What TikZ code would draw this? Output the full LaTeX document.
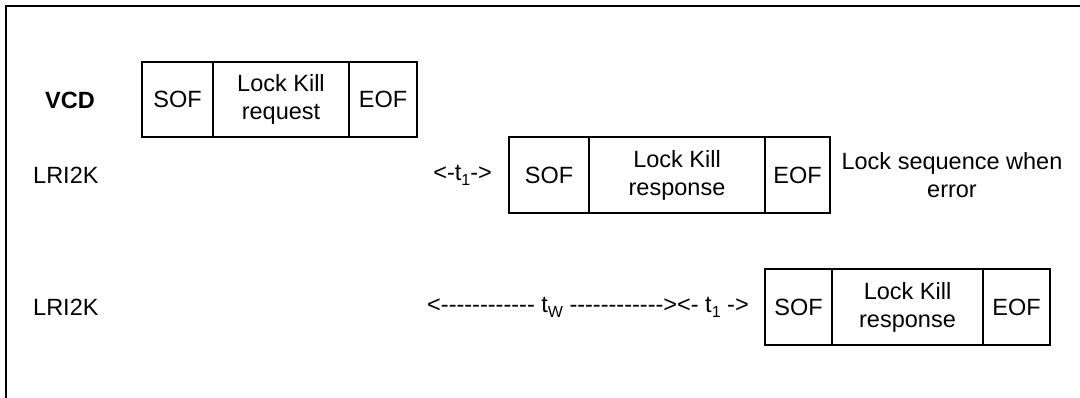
\documentclass[tikz,border=0pt]{standalone}
\usepackage{fontspec}
\setmainfont{Liberation Sans}[Ligatures=TeXOff]
\newcommand\mysub[1]{\raisebox{-0.22em}{\fontsize{16}{16}\selectfont #1}}
\newcommand\dashrun[1]{\foreach \i in {1,...,#1}{-}}
\begin{document}
\begin{tikzpicture}[x=1pt,y=-1pt,
  seg/.style={draw,line width=2.1pt,inner sep=0pt,align=center,
    font=\fontsize{23.5}{28}\selectfont},
  lbl/.style={inner sep=0pt,align=center,font=\fontsize{23.5}{28}\selectfont}]
\useasboundingbox (0,0) rectangle (1080,398);
% frame
\coordinate (ftr) at (1080,6);
\coordinate (ftl) at (6,6);
\coordinate (fbl) at (6,398);
\draw[line width=2.1pt] (ftr) -- (ftl) -- (fbl);
% row 1 : VCD
\node[lbl,font=\fontsize{23.5}{28}\selectfont\bfseries,anchor=west] (vcd) at (45,100) {VCD};
\node[seg,minimum width=71pt,minimum height=75pt] (a1) at (177.5,99.5) {SOF};
\node[seg,minimum width=136pt,minimum height=75pt] (a2) at (281,99.5) {Lock Kill\\request};
\node[seg,minimum width=68pt,minimum height=75pt] (a3) at (383,99.5) {EOF};
% row 2
\node[lbl,anchor=west] (l2) at (33,175) {LRI2K};
\node[lbl,anchor=east] (t1a) at (492,175) {<-t\mysub{1}->};
\node[seg,minimum width=80pt,minimum height=76pt] (b1) at (549,175) {SOF};
\node[seg,minimum width=176pt,minimum height=76pt] (b2) at (677,175) {Lock Kill\\response};
\node[seg,minimum width=65pt,minimum height=76pt] (b3) at (797.5,175) {EOF};
\node[lbl] (err) at (952,175) {Lock sequence when\\error};
% row 3
\node[lbl,anchor=west] (l3) at (33,307) {LRI2K};
\node[lbl,anchor=west] (tw) at (427,307) {<\dashrun{12} t\mysub{W} \dashrun{12}><- t\mysub{1} ->};
\node[seg,minimum width=67pt,minimum height=76pt] (c1) at (798.5,307) {SOF};
\node[seg,minimum width=151pt,minimum height=76pt] (c2) at (907.5,307) {Lock Kill\\response};
\node[seg,minimum width=67pt,minimum height=76pt] (c3) at (1016.5,307) {EOF};
\end{tikzpicture}
\end{document}
